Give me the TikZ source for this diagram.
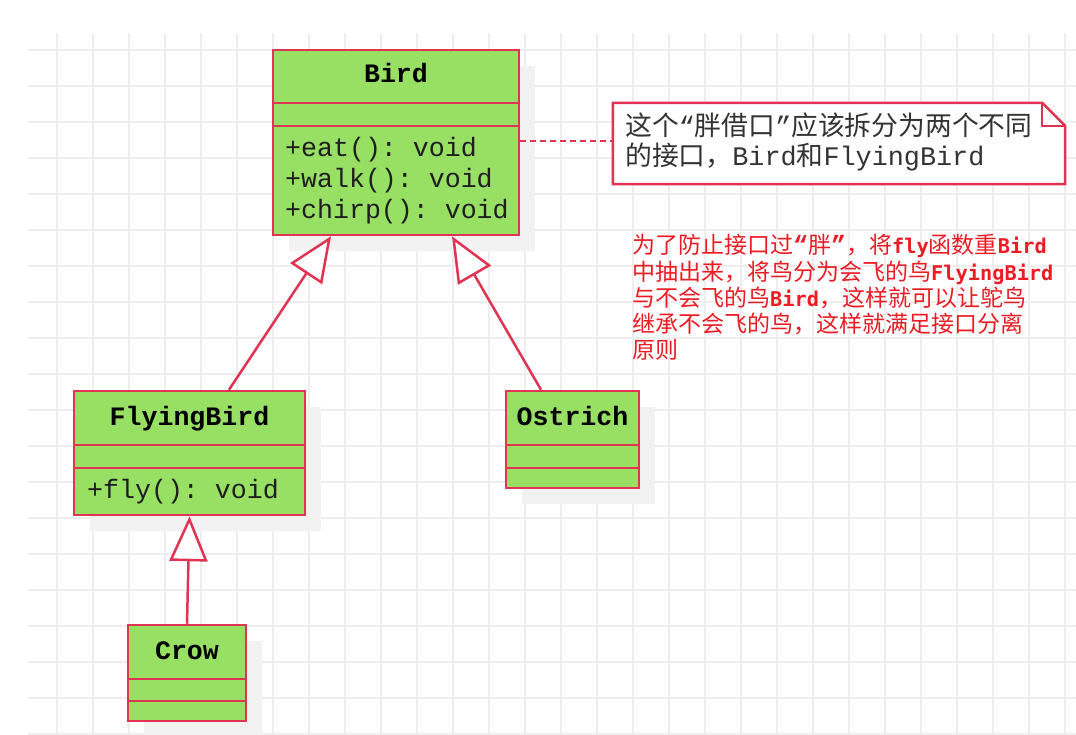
\documentclass[tikz,border=0pt]{standalone}
\usepackage{fontspec}
\setmainfont{Liberation Sans}
\setmonofont{Liberation Mono}
\newfontfamily\cjkfont{Noto Sans CJK SC}
\newfontfamily\consfont{DejaVu Sans Mono}
\usetikzlibrary{arrows.meta,shadows}
\definecolor{umlborder}{RGB}{224,52,82}
\definecolor{umlfill}{RGB}{152,224,100}
\definecolor{gridc}{RGB}{238,238,238}
\definecolor{shadowc}{RGB}{242,242,242}
\definecolor{notetext}{RGB}{51,51,51}
\definecolor{redtext}{RGB}{236,28,36}
\definecolor{umltext}{RGB}{30,30,30}
\newcommand{\cjktext}[1]{{\cjkfont #1}}
\newcommand{\montext}[1]{{\ttfamily #1}}
\newcommand{\redcjk}[1]{{\cjkfont\fontsize{23}{26}\selectfont #1}}
\newcommand{\redlat}[1]{{\consfont\bfseries\fontsize{20.3}{26}\selectfont #1}}
\newcommand{\redquote}[1]{{\ttfamily\bfseries\fontsize{25}{26}\selectfont #1}}
\begin{document}
\begin{tikzpicture}[x=1pt,y=-1pt,
  gridline/.style={draw=gridc,line width=1.3pt},
  classbox/.style={draw=umlborder,line width=2.5pt,fill=umlfill,inner sep=0pt,
    drop shadow={shadow xshift=16pt,shadow yshift=-16pt,fill=shadowc,opacity=1}},
  classline/.style={draw=umlborder,line width=2.5pt},
  titletext/.style={anchor=base,inner sep=0pt,font=\ttfamily\bfseries\fontsize{26.6}{31}\selectfont,text=black},
  methodtext/.style={anchor=base west,inner sep=0pt,font=\ttfamily\fontsize{26.6}{31}\selectfont,text=umltext},
  notebody/.style={draw=none,inner sep=0pt},
  notetxt/.style={anchor=base west,inner sep=0pt,font=\fontsize{26.8}{31}\selectfont,text=notetext},
  redline/.style={anchor=base west,inner sep=0pt,text=redtext},
  genarrow/.style={draw=umlborder,line width=2.5pt,-{Triangle[length=45pt,width=38pt,fill=white]}},
  dashline/.style={draw=umlborder,line width=1.8pt,dash pattern=on 6pt off 4pt}
]
\useasboundingbox (0,0) rectangle (1076,735);
\fill[white] (0,0) rectangle (1076,735);
% grid
\foreach \x in {57,93,...,1065} \draw[gridline] (\x,33) -- (\x,735);
\foreach \y in {50,86,...,734} \draw[gridline] (28,\y) -- (1076,\y);

% classes
\node[classbox,minimum width=246pt,minimum height=185pt] (bird) at (396,142.5) {};
\draw[classline] (bird.west |- 0,103) -- (bird.east |- 0,103);
\draw[classline] (bird.west |- 0,126) -- (bird.east |- 0,126);
\node[titletext] (birdname) at (396,83) {Bird};
\node[methodtext] (birdm1) at (285,157) {+eat(): void};
\node[methodtext] (birdm2) at (285,188) {+walk(): void};
\node[methodtext] (birdm3) at (285,219) {+chirp(): void};

\node[classbox,minimum width=231pt,minimum height=124pt] (fb) at (189.5,453) {};
\draw[classline] (fb.west |- 0,445) -- (fb.east |- 0,445);
\draw[classline] (fb.west |- 0,468) -- (fb.east |- 0,468);
\node[titletext] (fbname) at (189.5,425) {FlyingBird};
\node[methodtext] (fbm1) at (87,498) {+fly(): void};

\node[classbox,minimum width=133pt,minimum height=97pt] (os) at (572.5,439.5) {};
\draw[classline] (os.west |- 0,445) -- (os.east |- 0,445);
\draw[classline] (os.west |- 0,468) -- (os.east |- 0,468);
\node[titletext] (osname) at (572.5,425) {Ostrich};

\node[classbox,minimum width=118pt,minimum height=96pt] (crow) at (187,673) {};
\draw[classline] (crow.west |- 0,679) -- (crow.east |- 0,679);
\draw[classline] (crow.west |- 0,701) -- (crow.east |- 0,701);
\node[titletext] (crowname) at (187,659) {Crow};

% note
\node[notebody,minimum width=452pt,minimum height=81pt] (note) at (839,143.5) {};
\draw[draw=umlborder,line width=2.5pt,fill=white,line join=miter]
  (note.north west) -- ([xshift=-23pt]note.north east) -- ([yshift=-23pt]note.north east)
  -- (note.south east) -- (note.south west) -- cycle;
\draw[draw=umlborder,line width=2.5pt]
  ([xshift=-23pt]note.north east) |- ([yshift=-23pt]note.north east);
\node[notetxt] (note1) at (625,136)
  {\cjktext{这个}\montext{“}\cjktext{胖借口}\montext{”}\cjktext{应该拆分为两个不同}};
\node[notetxt] (note2) at (625,166)
  {\cjktext{的接口，}\montext{Bird}\cjktext{和}\montext{FlyingBird}};

% dashed anchor line
\draw[dashline] (bird.east |- 0,141) -- (note.west |- 0,141);

% red comment
\node[redline] (red1) at (632,254)
  {\redcjk{为了防止接口过}\redquote{“}\redcjk{胖}\redquote{”}\redcjk{，将}\redlat{fly}\redcjk{函数重}\redlat{Bird}};
\node[redline] (red2) at (632,280.2)
  {\redcjk{中抽出来，将鸟分为会飞的鸟}\redlat{FlyingBird}};
\node[redline] (red3) at (632,306.4)
  {\redcjk{与不会飞的鸟}\redlat{Bird}\redcjk{，这样就可以让鸵鸟}};
\node[redline] (red4) at (632,332.6)
  {\redcjk{继承不会飞的鸟，这样就满足接口分离}};
\node[redline] (red5) at (632,358.8)
  {\redcjk{原则}};

% generalizations
\draw[genarrow] ([xshift=39.5pt]fb.north) -- ([xshift=-65pt]bird.south);
\draw[genarrow] ([xshift=-31.5pt]os.north) -- ([xshift=56pt]bird.south);
\draw[genarrow] (crow.north) -- (fb.south);
\end{tikzpicture}
\end{document}
